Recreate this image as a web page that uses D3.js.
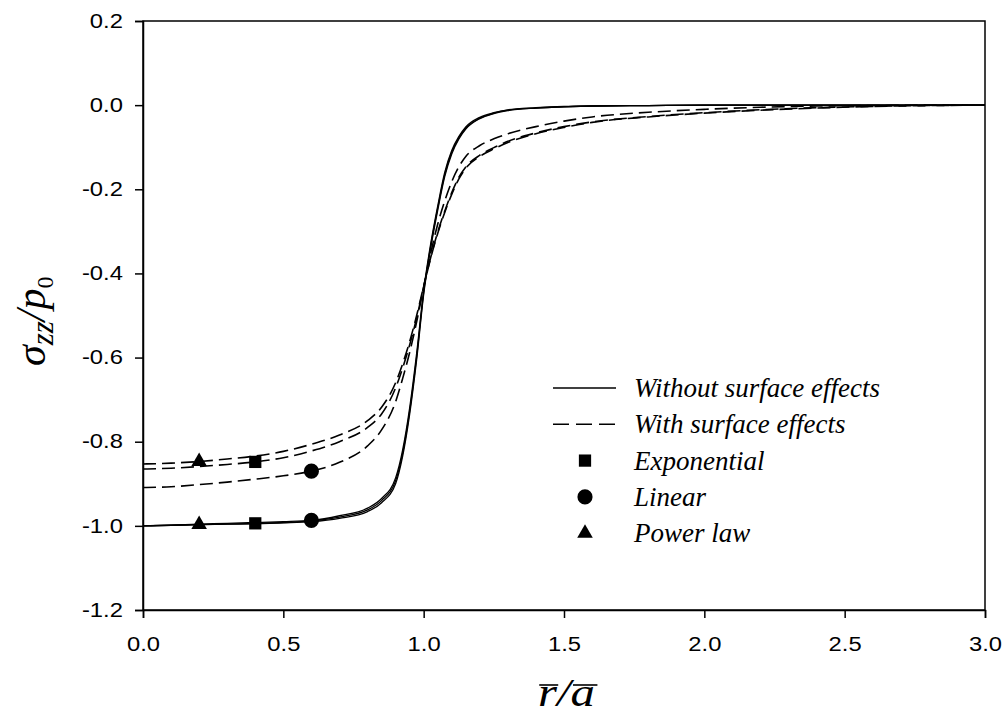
<!DOCTYPE html>
<html>
<head>
<meta charset="utf-8">
<script src="https://cdn.jsdelivr.net/npm/d3@7"></script>
<style>
  body { margin: 0; background: #fff; }
  svg { display: block; }
  .tick text { font-family: "Liberation Sans", Arial, sans-serif; font-size: 19.5px; fill: #000; }
</style>
</head>
<body>
<div id="chart"></div>
<script>
// data
const xVals = [0, 0.1, 0.2, 0.3, 0.4, 0.5, 0.6, 0.7, 0.8, 0.85, 0.9, 0.925, 0.95, 0.975, 1.0, 1.025, 1.05, 1.075, 1.1, 1.125, 1.15, 1.2, 1.25, 1.3, 1.4, 1.5, 1.6, 1.8, 2.0, 2.2, 2.4, 2.6, 2.8, 3.0];

// without surface effects (solid)
const solidExp = [-1.000, -0.999, -0.997, -0.996, -0.994, -0.992, -0.988, -0.979, -0.962, -0.940, -0.893, -0.828, -0.728, -0.598, -0.445, -0.335, -0.245, -0.165, -0.112, -0.078, -0.055, -0.031, -0.019, -0.012, -0.007, -0.004, -0.002, -0.001, 0, 0, 0, 0, 0, 0];
const solidLin = [-1.000, -0.998, -0.996, -0.994, -0.992, -0.990, -0.987, -0.976, -0.958, -0.935, -0.886, -0.820, -0.720, -0.590, -0.440, -0.330, -0.240, -0.160, -0.108, -0.075, -0.052, -0.029, -0.018, -0.011, -0.006, -0.003, -0.002, -0.001, 0, 0, 0, 0, 0, 0];
const solidPow = [-1.000, -0.999, -0.997, -0.996, -0.995, -0.993, -0.990, -0.982, -0.966, -0.945, -0.900, -0.835, -0.735, -0.605, -0.450, -0.340, -0.250, -0.170, -0.116, -0.081, -0.057, -0.032, -0.020, -0.013, -0.007, -0.004, -0.002, -0.001, 0, 0, 0, 0, 0, 0];

// with surface effects (dashed)
const dashExp = [-0.865, -0.863, -0.859, -0.854, -0.848, -0.838, -0.822, -0.800, -0.766, -0.734, -0.672, -0.625, -0.570, -0.506, -0.432, -0.364, -0.305, -0.255, -0.212, -0.176, -0.150, -0.122, -0.104, -0.089, -0.068, -0.053, -0.041, -0.028, -0.019, -0.012, -0.007, -0.003, -0.001, 0];
const dashLin = [-0.909, -0.907, -0.902, -0.896, -0.889, -0.881, -0.870, -0.849, -0.810, -0.772, -0.705, -0.650, -0.588, -0.515, -0.432, -0.352, -0.283, -0.228, -0.182, -0.147, -0.122, -0.096, -0.080, -0.068, -0.051, -0.038, -0.028, -0.017, -0.010, -0.005, -0.002, -0.001, 0, 0];
const dashPow = [-0.853, -0.851, -0.847, -0.841, -0.834, -0.823, -0.806, -0.784, -0.750, -0.718, -0.660, -0.615, -0.562, -0.500, -0.430, -0.362, -0.302, -0.252, -0.208, -0.172, -0.147, -0.119, -0.101, -0.086, -0.066, -0.051, -0.040, -0.027, -0.018, -0.011, -0.006, -0.003, -0.001, 0];

// one marker per grading law, placed on its curves
const markerNames = ['Exponential', 'Linear', 'Power law'];
const markerShapes = ['square', 'circle', 'triangle'];
const markerX = [0.4, 0.6, 0.2];

const xTicks = [0, 0.5, 1.0, 1.5, 2.0, 2.5, 3.0];
const yTicks = [-1.2, -1.0, -0.8, -0.6, -0.4, -0.2, 0.0, 0.2];

const width = 1005, height = 717;
const m = { left: 143, right: 20, top: 21, bottom: 107 };
const stretch = 1.22; // the figure's lettering is drawn wide

const svg = d3.select('#chart').append('svg')
    .attr('width', width)
    .attr('height', height);
svg.append('rect').attr('width', width).attr('height', height).attr('fill', '#fff');

const x = d3.scaleLinear().domain([0, 3]).range([m.left, width - m.right]);
const y = d3.scaleLinear().domain([-1.2, 0.2]).range([height - m.bottom, m.top]);

// frame
svg.append('rect')
    .attr('x', x(0)).attr('y', y(0.2))
    .attr('width', x(3) - x(0)).attr('height', y(-1.2) - y(0.2))
    .attr('fill', 'none').attr('stroke', '#000').attr('stroke-width', 1.5);

const fmt = function (d) { return d3.format('.1f')(d).replace('\u2212', '-'); };
const xAxis = svg.append('g')
    .attr('transform', 'translate(0,' + y(-1.2) + ')')
    .call(d3.axisBottom(x).tickValues(xTicks).tickFormat(fmt).tickSize(8).tickPadding(19));
const yAxis = svg.append('g')
    .attr('transform', 'translate(' + x(0) + ',0)')
    .call(d3.axisLeft(y).tickValues(yTicks).tickFormat(fmt).tickSize(8).tickPadding(8.5));
[xAxis, yAxis].forEach(function (g) {
    g.select('.domain').attr('stroke-width', 1.5);
    g.selectAll('.tick line').attr('stroke-width', 1.5);
    g.selectAll('.tick text').attr('transform', 'scale(' + stretch + ',1)');
});

// curves
const line = d3.line()
    .x(function (d) { return x(d[0]); })
    .y(function (d) { return y(d[1]); })
    .curve(d3.curveMonotoneX);

function draw(vals, dashed) {
    svg.append('path')
        .datum(xVals.map(function (v, i) { return [v, vals[i]]; }))
        .attr('d', line)
        .attr('fill', 'none')
        .attr('stroke', '#000')
        .attr('stroke-width', dashed ? 1.6 : 1.3)
        .attr('stroke-dasharray', dashed ? '13,6' : null);
}
[solidExp, solidLin, solidPow].forEach(function (s) { draw(s, false); });
[dashExp, dashLin, dashPow].forEach(function (s) { draw(s, true); });

// markers
const symbolFor = {
    square: d3.symbol().type(d3.symbolSquare).size(150),
    circle: d3.symbol().type(d3.symbolCircle).size(180),
    triangle: d3.symbol().type(d3.symbolTriangle).size(105)
};
const seriesFor = [[solidExp, dashExp], [solidLin, dashLin], [solidPow, dashPow]];
markerNames.forEach(function (name, k) {
    const idx = xVals.indexOf(markerX[k]);
    seriesFor[k].forEach(function (s) {
        svg.append('path')
            .attr('d', symbolFor[markerShapes[k]]())
            .attr('transform', 'translate(' + x(markerX[k]) + ',' + y(s[idx]) + ')')
            .attr('fill', '#000');
    });
});

// legend
const legend = svg.append('g').attr('transform', 'translate(553,388)');
const rowH = 36.3;
const legendRows = [
    { label: 'Without surface effects', kind: 'solid' },
    { label: 'With surface effects', kind: 'dashed' }
].concat(markerNames.map(function (n, k) { return { label: n, kind: markerShapes[k] }; }));

legendRows.forEach(function (r, i) {
    const g = legend.append('g').attr('transform', 'translate(0,' + (i * rowH) + ')');
    if (r.kind === 'solid' || r.kind === 'dashed') {
        g.append('line').attr('x1', 0).attr('x2', 63).attr('y1', 0).attr('y2', 0)
            .attr('stroke', '#000').attr('stroke-width', 1.5)
            .attr('stroke-dasharray', r.kind === 'dashed' ? '16,7' : null);
    } else {
        g.append('path').attr('d', symbolFor[r.kind]())
            .attr('transform', 'translate(32,0)').attr('fill', '#000');
    }
    g.append('text')
        .attr('x', 81).attr('y', 9)
        .attr('font-family', '"Liberation Serif", "Times New Roman", serif')
        .attr('font-style', 'italic')
        .attr('font-size', 27)
        .text(r.label);
});

// y axis title: sigma_zz / p_0
const yt = svg.append('text')
    .attr('transform', 'translate(45,366) rotate(-90)')
    .attr('font-family', '"Liberation Serif", "Times New Roman", serif')
    .attr('font-style', 'italic')
    .attr('font-size', 42);
yt.append('tspan').text('σ');
yt.append('tspan').attr('font-size', 31).attr('dy', 8).text('zz');
yt.append('tspan').attr('dy', -8).text('/p');
yt.append('tspan').attr('font-size', 24).attr('font-style', 'normal').attr('dy', 8).text('0');

// x axis title: r-bar / a-bar, overlines drawn from the glyph widths
const xg = svg.append('g').attr('transform', 'translate(538,706) scale(' + stretch + ',1)');
const xt = xg.append('text')
    .attr('x', 0).attr('y', 0)
    .attr('font-family', '"Liberation Serif", "Times New Roman", serif')
    .attr('font-style', 'italic')
    .attr('font-size', 40)
    .text('r/a');
const tn = xt.node();
const wR = tn.getSubStringLength(0, 1);
const wSlash = tn.getSubStringLength(1, 1);
const wA = tn.getSubStringLength(2, 1);
[[1, wR + 1], [wR + wSlash + 2, wR + wSlash + wA + 2]].forEach(function (seg) {
    xg.append('line')
        .attr('x1', seg[0]).attr('x2', seg[1])
        .attr('y1', -21).attr('y2', -21)
        .attr('stroke', '#000').attr('stroke-width', 1.6);
});
</script>
</body>
</html>
